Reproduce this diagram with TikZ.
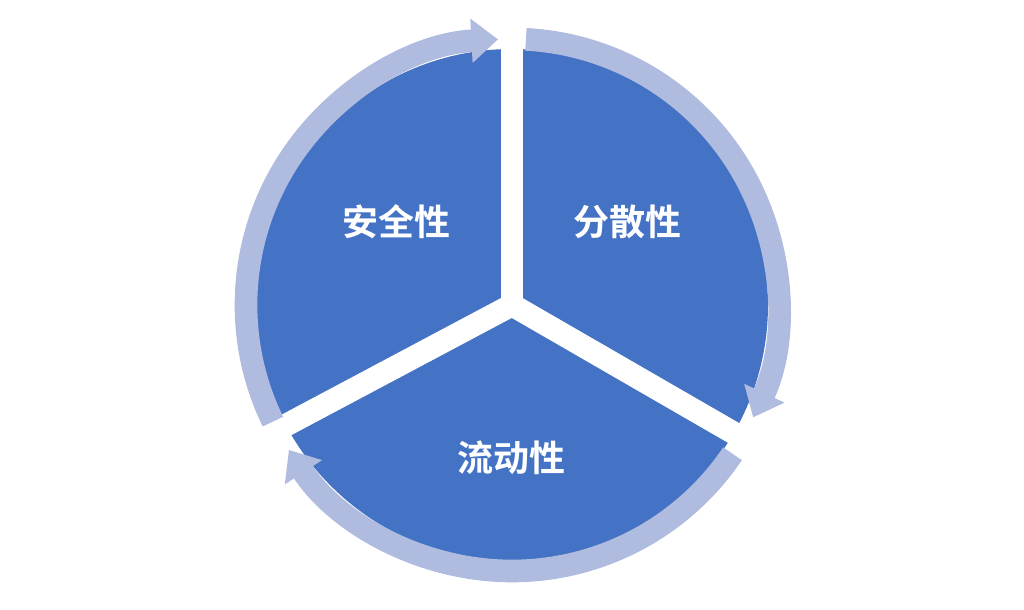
\documentclass[tikz,border=0pt]{standalone}
\usepackage{fontspec}
\newfontfamily\cjk{Noto Sans CJK SC}[BoldFont={Noto Sans CJK SC Bold}]
\usetikzlibrary{arrows.meta}
\definecolor{pieblue}{HTML}{4472C4}
\definecolor{ringblue}{HTML}{B0BCDF}
\tikzset{
    ring/.style = {draw=ringblue, line width=17pt, -{Triangle[width=32pt, length=20pt]}},
    gap/.style = {draw=white, line width=17pt},
    label/.style = {text=white, font=\cjk\bfseries\fontsize{27}{30}\selectfont}
}
\begin{document}
\begin{tikzpicture}[x=0.75pt, y=0.75pt]
    \useasboundingbox (-512,-305) rectangle (512,305);
    % sectors
    \coordinate (c) at (0,0);
    \fill[pieblue] (c) circle (256);
    \coordinate (g1) at (90:262);
    \coordinate (g2) at (-30:262);
    \coordinate (g3) at (208:262);
    \draw[gap] (c) -- (g1);
    \draw[gap] (c) -- (g2);
    \draw[gap] (c) -- (g3);
    % ring arrows
    \draw[ring] (206:266) arc[start angle=206, end angle=93, radius=266];
    \draw[ring] (87:266) arc[start angle=87, end angle=-25, radius=266];
    \draw[ring] (-34:266) arc[start angle=-34, end angle=-147, radius=266];
    % labels
    \node[label] (safe) at (-115,83) {安全性};
    \node[label] (spread) at (115,83) {分散性};
    \node[label] (flow) at (0,-153) {流动性};
\end{tikzpicture}
\end{document}
